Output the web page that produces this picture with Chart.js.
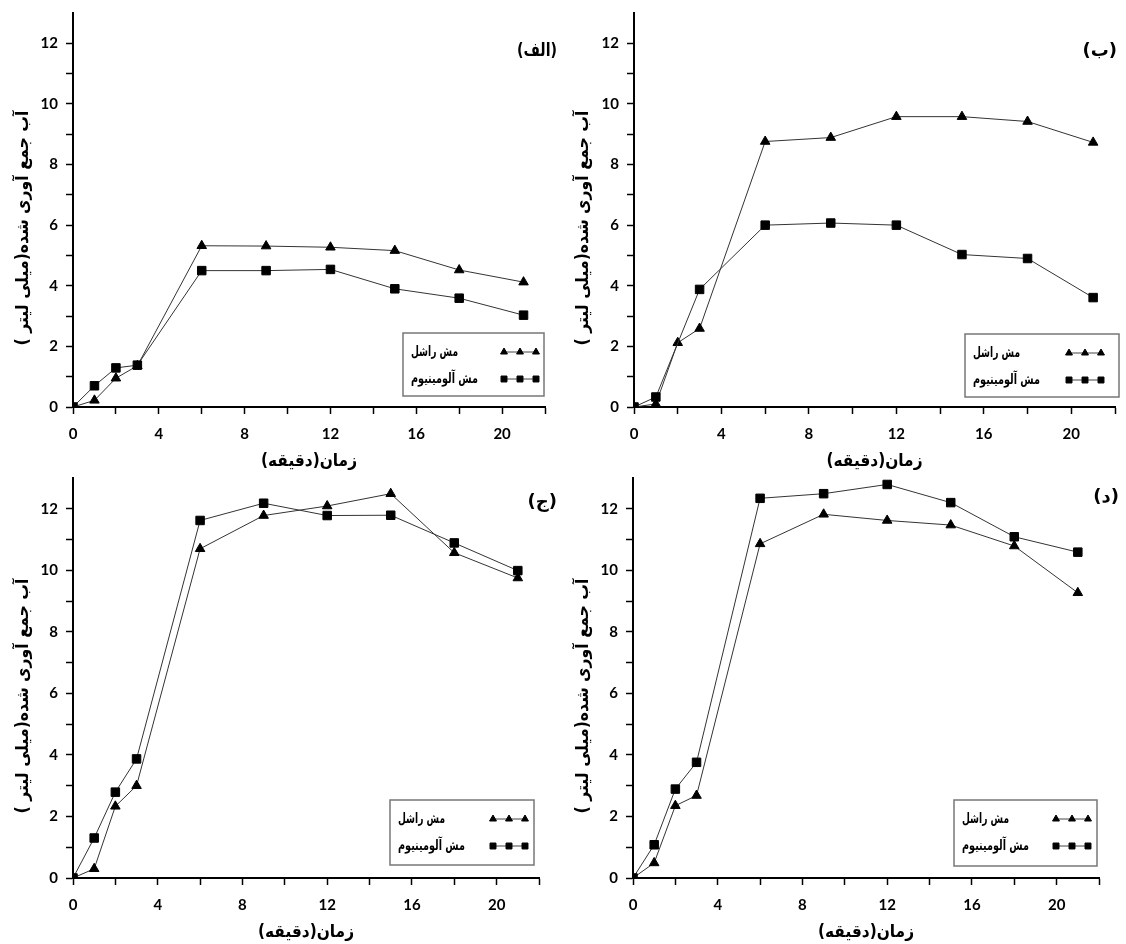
<!DOCTYPE html>
<html>
<head>
<meta charset="utf-8">
<script src="https://cdn.jsdelivr.net/npm/chart.js@4.4.1/dist/chart.umd.min.js"></script>
<style>
    html, body { margin: 0; padding: 0; background: #fff; }
    #page { position: relative; width: 1126px; height: 944px; overflow: hidden; background: #fff; }
    canvas { position: absolute; direction: rtl; }
</style>
</head>
<body>
<div id="page">
    <canvas id="chart-alef" dir="rtl"></canvas>
    <canvas id="chart-be" dir="rtl"></canvas>
    <canvas id="chart-jim" dir="rtl"></canvas>
    <canvas id="chart-dal" dir="rtl"></canvas>
</div>
<script>
// time in minutes, water collected in ml
var times = [0, 1, 2, 3, 6, 9, 12, 15, 18, 21];
var series_names = ['مش راشل', 'مش آلومینیوم'];
var x_tick_labels = [0, 4, 8, 12, 16, 20];
var y_tick_labels = [0, 2, 4, 6, 8, 10, 12];
var panel_labels = ['(الف)', '(ب)', '(ج)', '(د)'];
var x_title = 'زمان(دقیقه)';
var y_title = 'آب جمع آوری شده(میلی لیتر )';

var alef_rashel = [0, 0.22, 0.95, 1.36, 5.32, 5.31, 5.27, 5.16, 4.52, 4.12];
var alef_alum   = [0, 0.70, 1.29, 1.38, 4.50, 4.50, 4.54, 3.90, 3.59, 3.03];
var be_rashel   = [0, 0.10, 2.12, 2.59, 8.76, 8.89, 9.58, 9.58, 9.42, 8.73];
var be_alum     = [0, 0.33, null, 3.88, 6.00, 6.07, 6.00, 5.03, 4.90, 3.61];
var jim_rashel  = [0, 0.30, 2.33, 3.00, 10.70, 11.78, 12.09, 12.49, 10.57, 9.75];
var jim_alum    = [0, 1.30, 2.79, 3.87, 11.62, 12.18, 11.78, 11.79, 10.89, 9.99];
var dal_rashel  = [0, 0.49, 2.35, 2.68, 10.86, 11.82, 11.62, 11.47, 10.79, 9.27];
var dal_alum    = [0, 1.08, 2.89, 3.76, 12.34, 12.49, 12.79, 12.20, 11.09, 10.59];

var tick_font = { family: 'Lato, "DejaVu Sans", sans-serif', size: 15, weight: 'bold' };
var persian_font = '"DejaVu Sans", sans-serif';

// canvas placement, area = [left, top, right, bottom] of the plot inside the canvas
var panels = [
    { id: 'chart-alef', left: 0, top: -7, width: 560, height: 480, area: [73, 20, 545, 414],
      rashel: alef_rashel, alum: alef_alum, label: panel_labels[0], labelPos: [557, 58],
      legendBox: [403, 340, 141, 63], symEnd: 8 },
    { id: 'chart-be', left: 560, top: -7, width: 566, height: 480, area: [74, 20, 557, 414],
      rashel: be_rashel, alum: be_alum, label: panel_labels[1], labelPos: [557, 58],
      legendBox: [405, 341, 154, 63], symEnd: 18 },
    { id: 'chart-jim', left: 0, top: 458, width: 560, height: 486, area: [73, 20, 539, 420],
      rashel: jim_rashel, alum: jim_alum, label: panel_labels[2], labelPos: [557, 44],
      legendBox: [390, 342, 144, 65], symEnd: 9 },
    { id: 'chart-dal', left: 560, top: 458, width: 566, height: 486, area: [73, 20, 539, 420],
      rashel: dal_rashel, alum: dal_alum, label: panel_labels[3], labelPos: [559, 39],
      legendBox: [394, 342, 143, 66], symEnd: 9 }
];

function toPoints(values) {
    return times.map(function (t, i) { return { x: t, y: values[i] }; });
}

// axis titles, panel letter and the boxed legend inside the plot
var panelDecor = {
    id: 'panelDecor',
    afterDraw: function (chart) {
        var p = chart.options.plugins.panelDecor;
        var ctx = chart.ctx;
        var area = chart.chartArea;
        ctx.save();
        ctx.direction = 'rtl';
        ctx.fillStyle = '#000';
        ctx.textBaseline = 'middle';

        ctx.font = 'bold 17px ' + persian_font;
        ctx.textAlign = 'center';
        ctx.fillText(x_title, (area.left + area.right) / 2, area.bottom + 55, 96);
        ctx.save();
        ctx.translate(24, (area.top + area.bottom) / 2 + 18);
        ctx.rotate(-Math.PI / 2);
        ctx.fillText(y_title, 0, 0, 235);
        ctx.restore();

        ctx.font = 'bold 18px ' + persian_font;
        ctx.textAlign = 'right';
        ctx.fillText(p.label, p.labelPos[0], p.labelPos[1], 40);

        var b = p.legendBox;
        ctx.strokeStyle = '#777';
        ctx.lineWidth = 1.5;
        ctx.strokeRect(b[0], b[1], b[2], b[3]);

        ctx.font = 'bold 14px ' + persian_font;
        ctx.textAlign = 'left';
        var textWidths = [47, 67];
        chart.data.datasets.forEach(function (ds, i) {
            var y = b[1] + 19 + i * 27;
            ctx.fillStyle = '#000';
            ctx.fillText(ds.label, b[0] + 8, y, textWidths[i]);
            var x2 = b[0] + b[2] - p.symEnd;
            var x1 = x2 - 32;
            ctx.strokeStyle = '#444';
            ctx.lineWidth = 1;
            ctx.beginPath();
            ctx.moveTo(x1, y);
            ctx.lineTo(x2, y);
            ctx.stroke();
            ctx.fillStyle = '#000';
            ctx.strokeStyle = '#000';
            [x1, (x1 + x2) / 2, x2].forEach(function (x) {
                Chart.helpers.drawPoint(ctx, {
                    pointStyle: ds.pointStyle,
                    radius: ds.pointStyle === 'triangle' ? 4 : 4.2,
                    borderWidth: 0.5
                }, x, y);
            });
        });
        ctx.restore();
    }
};

panels.forEach(function (p) {
    var canvas = document.getElementById(p.id);
    canvas.width = p.width;
    canvas.height = p.height;
    canvas.style.left = p.left + 'px';
    canvas.style.top = p.top + 'px';

    new Chart(canvas.getContext('2d'), {
        type: 'line',
        data: {
            datasets: [{
                label: series_names[0],
                data: toPoints(p.rashel),
                borderColor: '#333',
                borderWidth: 1,
                pointStyle: 'triangle',
                pointRadius: 5.5,
                pointBackgroundColor: '#000',
                pointBorderColor: '#000',
                pointBorderWidth: 1,
                tension: 0,
                order: 1
            }, {
                label: series_names[1],
                data: toPoints(p.alum),
                borderColor: '#333',
                borderWidth: 1,
                pointStyle: 'rect',
                pointRadius: 6,
                pointBackgroundColor: '#000',
                pointBorderColor: '#000',
                pointBorderWidth: 1,
                spanGaps: true,
                tension: 0,
                order: 0
            }]
        },
        options: {
            responsive: false,
            animation: false,
            layout: {
                padding: { left: 0, top: p.area[1], right: p.width - p.area[2], bottom: 0 }
            },
            plugins: {
                legend: { display: false },
                tooltip: { enabled: false },
                panelDecor: { label: p.label, labelPos: p.labelPos, legendBox: p.legendBox, symEnd: p.symEnd }
            },
            scales: {
                x: {
                    type: 'linear',
                    min: 0,
                    max: 22,
                    border: { display: true, color: '#000', width: 2 },
                    grid: { drawOnChartArea: false, drawTicks: true, tickLength: 7, tickWidth: 1.5, tickColor: '#000' },
                    ticks: {
                        stepSize: 2,
                        autoSkip: false,
                        maxRotation: 0,
                        padding: 11,
                        color: '#000',
                        font: tick_font,
                        callback: function (v) { return x_tick_labels.indexOf(v) >= 0 ? String(v) : ''; }
                    },
                    afterFit: function (scale) { scale.height = p.height - p.area[3]; }
                },
                y: {
                    min: 0,
                    max: 13,
                    border: { display: true, color: '#000', width: 2 },
                    grid: { drawOnChartArea: false, drawTicks: true, tickLength: 7, tickWidth: 1.5, tickColor: '#000' },
                    ticks: {
                        stepSize: 1,
                        autoSkip: false,
                        padding: 8,
                        color: '#000',
                        font: tick_font,
                        callback: function (v) { return y_tick_labels.indexOf(v) >= 0 ? String(v) : ''; }
                    },
                    afterBuildTicks: function (scale) {
                        scale.ticks = scale.ticks.filter(function (t) { return t.value <= 12; });
                    },
                    afterFit: function (scale) { scale.width = p.area[0]; }
                }
            }
        },
        plugins: [panelDecor]
    });
});
</script>
</body>
</html>
